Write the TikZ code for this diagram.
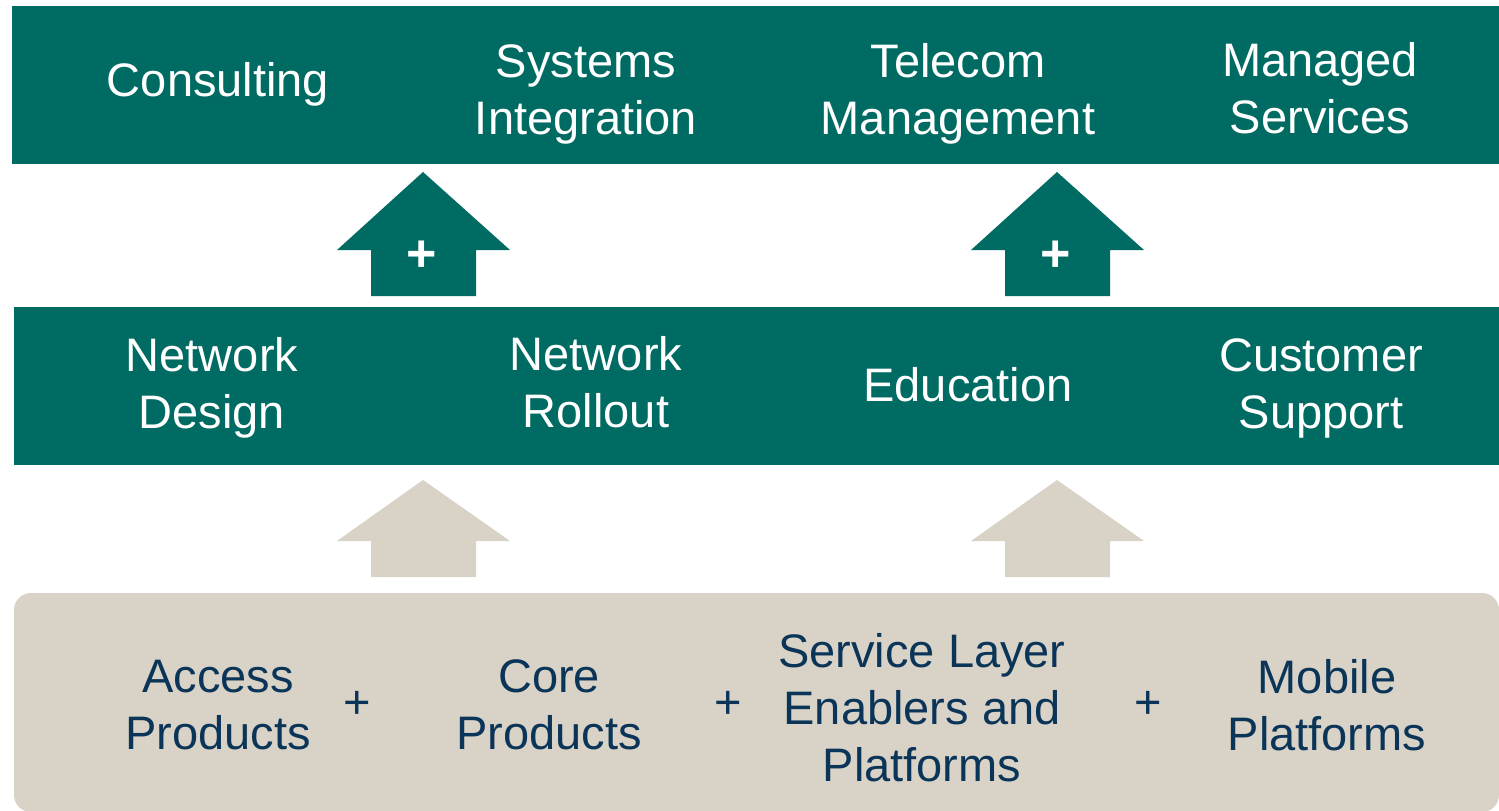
\documentclass[tikz,border=0pt]{standalone}
\usepackage{fontspec}
\setmainfont{Liberation Sans}
\definecolor{teal1}{HTML}{006B63}
\definecolor{beige1}{HTML}{D9D2C6}
\definecolor{navy1}{HTML}{0B3558}
\begin{document}
\begin{tikzpicture}[x=1pt,y=-1pt,
  lbl/.style={align=center,inner sep=0pt,font=\fontsize{47}{57}\selectfont},
  wlbl/.style={lbl,text=white},
  blbl/.style={lbl,text=navy1},
  plus/.style={inner sep=0pt,font=\fontsize{47}{57}\selectfont},
  aplus/.style={inner sep=0pt,text=white,font=\fontsize{52}{57}\selectfont\bfseries},
]
\useasboundingbox (0,0) rectangle (1499,811);
% bars
\fill[teal1] (12,6) rectangle (1499,164);
\fill[teal1] (14,307) rectangle (1499,465);
\fill[beige1,rounded corners=17pt] (14,593) rectangle (1499,812);
% arrows
\foreach \cx in {423,1057}{
  \fill[teal1] (\cx,172) -- (\cx+87,250) -- (\cx+53,250) -- (\cx+53,296) -- (\cx-52,296) -- (\cx-52,250) -- (\cx-86,250) -- cycle;
  \fill[beige1] (\cx,480) -- (\cx+87,541) -- (\cx+53,541) -- (\cx+53,577) -- (\cx-52,577) -- (\cx-52,541) -- (\cx-86,541) -- cycle;
}
\node[aplus] (p1) at (422,256) {+};
\node[aplus] (p2) at (1056,256) {+};
% top row
\node[wlbl] (consulting) at (218,84) {Consulting};
\node[wlbl] (si) at (586,94) {Systems\\Integration};
\node[wlbl] (tm) at (958,94) {Telecom\\Management};
\node[wlbl] (ms) at (1320,88) {Managed\\Services};
% middle row
\node[wlbl] (nd) at (212,388) {Network\\Design};
\node[wlbl] (nr) at (596,382) {Network\\Rollout};
\node[wlbl] (ed) at (968,385) {Education};
\node[wlbl] (cs) at (1321,388) {Customer\\Support};
% bottom row
\node[blbl] (ap) at (218,705) {Access\\Products};
\node[plus,text=navy1] (b1) at (357,705) {+};
\node[blbl] (cp) at (549,705) {Core\\Products};
\node[plus,text=navy1] (b2) at (728,705) {+};
\node[blbl] (sl) at (922,708) {Service Layer\\Enablers and\\Platforms};
\node[plus,text=navy1] (b3) at (1148,705) {+};
\node[blbl] (mp) at (1327,705) {Mobile\\Platforms};
\end{tikzpicture}
\end{document}
